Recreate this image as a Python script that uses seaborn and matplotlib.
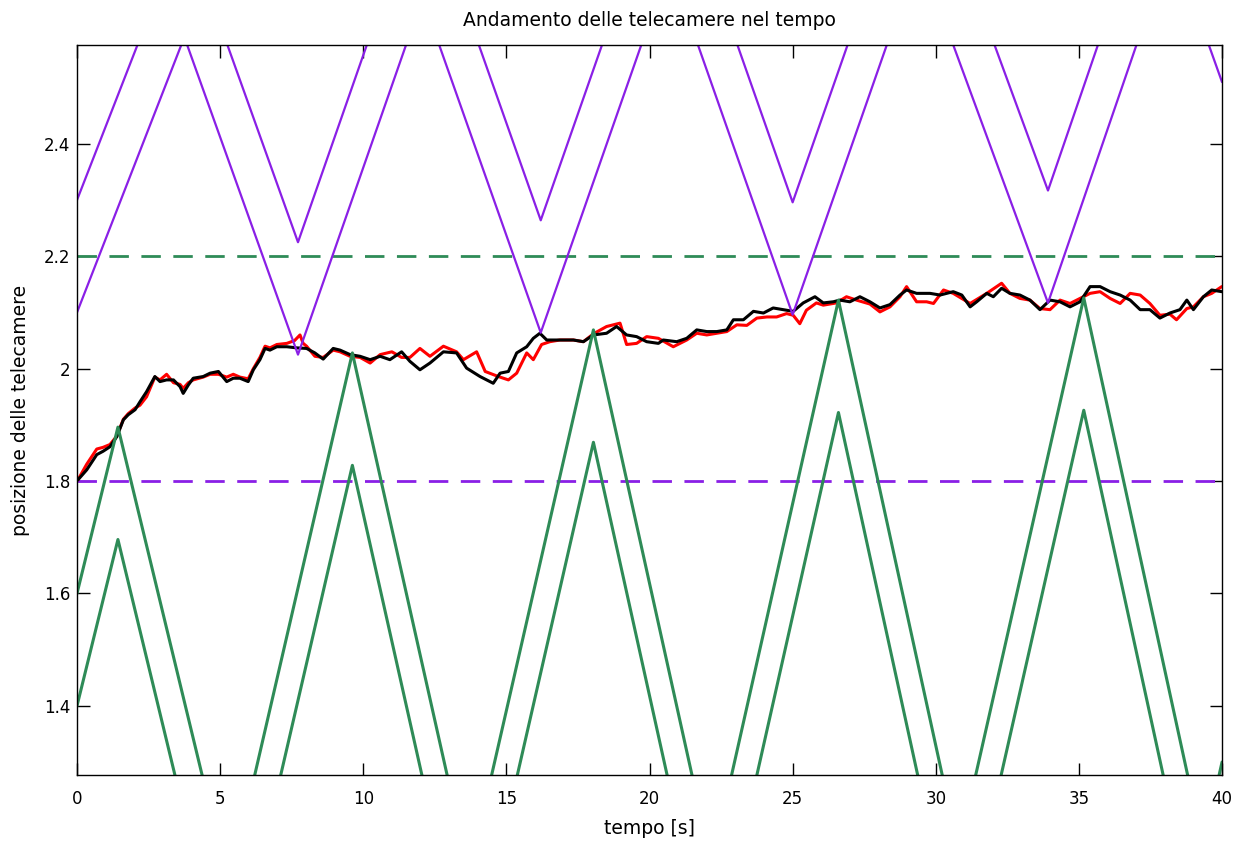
import numpy as np
import pandas as pd
import matplotlib
matplotlib.use("Agg")
import matplotlib.pyplot as plt
import seaborn as sns

# ---------------- data ----------------
title = "Andamento delle telecamere nel tempo"
xlabel = "tempo [s]"
ylabel = "posizione delle telecamere"

x_ticks = [0, 5, 10, 15, 20, 25, 30, 35, 40]
y_ticks = [1.4, 1.6, 1.8, 2.0, 2.2, 2.4]
y_tick_labels = ["1.4", "1.6", "1.8", "2", "2.2", "2.4"]
x_range = [0, 40]
y_range = [1.277, 2.576]

# thresholds (dashed)
purple_threshold = 1.8
green_threshold = 2.2

# purple camera: lower edge vertices; upper edge = lower + offset
purple_t = [0.0, 3.75, 7.72, 12.07, 16.2, 20.7, 25.0, 29.42, 33.92, 38.25, 40.0]
purple_low = [2.10, 2.59, 2.025, 2.66, 2.064, 2.72, 2.096, 2.741, 2.117, 2.76, 2.51]
purple_offset = 0.2

# green camera: upper edge vertices; lower edge = upper - offset
green_t = [0.0, 1.43, 5.31, 9.62, 13.7, 18.04, 22.17, 26.6, 30.8, 35.17, 39.34, 40.0]
green_high = [1.60, 1.896, 1.079, 2.028, 1.102, 2.069, 1.119, 2.122, 1.143, 2.126, 1.15, 1.30]
green_offset = 0.2

# target estimate (black)
black_t = [0.03, 0.34, 0.69, 0.91, 1.15, 1.39, 1.62, 1.79, 2.03, 2.2, 2.43, 2.72, 2.9, 3.13,
           3.37, 3.6, 3.71, 3.89, 4.06, 4.41, 4.65, 4.94, 5.23, 5.46, 5.69, 5.98, 6.16, 6.39,
           6.57, 6.74, 6.98, 7.33, 7.67, 8.02, 8.31, 8.6, 8.95, 9.19, 9.54, 9.89, 10.24,
           10.59, 10.93, 11.34, 11.63, 11.98, 12.33, 12.8, 13.26, 13.61, 14.08, 14.54, 14.78,
           15.07, 15.36, 15.71, 15.94, 16.17, 16.41, 16.87, 17.34, 17.69, 18.04, 18.5, 18.85,
           19.2, 19.55, 19.9, 20.31, 20.48, 20.95, 21.3, 21.65, 22.0, 22.35, 22.7, 22.93,
           23.28, 23.63, 23.98, 24.32, 24.67, 25.02, 25.37, 25.78, 26.07, 26.42, 26.65, 27.0,
           27.35, 27.7, 28.05, 28.4, 28.75, 28.98, 29.33, 29.8, 30.15, 30.61, 30.91, 31.2,
           31.43, 31.78, 32.01, 32.3, 32.59, 32.94, 33.29, 33.64, 33.99, 34.34, 34.69, 35.04,
           35.39, 35.74, 36.09, 36.44, 36.79, 37.14, 37.48, 37.83, 38.18, 38.53, 38.77, 39.0,
           39.35, 39.64, 39.99]
black_y = [1.802, 1.82, 1.847, 1.853, 1.861, 1.879, 1.909, 1.918, 1.927, 1.941, 1.959, 1.986,
           1.977, 1.98, 1.98, 1.968, 1.956, 1.971, 1.983, 1.986, 1.992, 1.995, 1.977, 1.983,
           1.983, 1.977, 1.998, 2.016, 2.036, 2.033, 2.039, 2.039, 2.037, 2.036, 2.028, 2.017,
           2.036, 2.033, 2.025, 2.022, 2.016, 2.022, 2.016, 2.030, 2.013, 1.998, 2.010, 2.030,
           2.028, 2.001, 1.986, 1.974, 1.992, 1.995, 2.028, 2.039, 2.054, 2.063, 2.051, 2.051,
           2.051, 2.048, 2.060, 2.063, 2.075, 2.060, 2.057, 2.048, 2.045, 2.051, 2.048, 2.054,
           2.069, 2.066, 2.066, 2.069, 2.087, 2.087, 2.102, 2.099, 2.108, 2.105, 2.102, 2.117,
           2.128, 2.117, 2.119, 2.122, 2.119, 2.128, 2.119, 2.108, 2.114, 2.131, 2.140, 2.134,
           2.134, 2.131, 2.137, 2.131, 2.110, 2.119, 2.134, 2.128, 2.143, 2.134, 2.131, 2.122,
           2.105, 2.122, 2.119, 2.110, 2.119, 2.146, 2.146, 2.137, 2.131, 2.122, 2.105, 2.105,
           2.090, 2.099, 2.105, 2.122, 2.105, 2.128, 2.140, 2.137]

# target measurement (red)
red_t = [0.03, 0.34, 0.69, 0.91, 1.15, 1.39, 1.62, 1.79, 2.03, 2.2, 2.43, 2.72, 2.9, 3.13,
         3.37, 3.6, 3.71, 3.89, 4.06, 4.41, 4.65, 4.94, 5.23, 5.46, 5.69, 5.98, 6.16, 6.39,
         6.57, 6.74, 6.98, 7.33, 7.6, 7.79, 7.9, 8.02, 8.31, 8.6, 8.95, 9.19, 9.54, 9.89,
         10.24, 10.59, 11.0, 11.34, 11.63, 11.98, 12.33, 12.8, 13.26, 13.5, 13.96, 14.26,
         14.72, 15.07, 15.36, 15.71, 15.94, 16.23, 16.52, 16.87, 17.34, 17.69, 18.04, 18.5,
         18.97, 19.2, 19.55, 19.9, 20.31, 20.83, 21.3, 21.65, 22.0, 22.35, 22.7, 23.05,
         23.4, 23.75, 24.1, 24.44, 24.79, 25.02, 25.25, 25.48, 25.83, 26.07, 26.53, 26.88,
         27.23, 27.7, 28.05, 28.4, 28.75, 28.98, 29.33, 29.68, 29.92, 30.27, 30.61, 31.2,
         31.78, 32.3, 32.59, 32.94, 33.29, 33.64, 33.99, 34.34, 34.69, 35.04, 35.39, 35.74,
         36.09, 36.44, 36.79, 37.14, 37.48, 37.83, 38.18, 38.41, 38.77, 39.0, 39.35, 39.64,
         39.99]
red_y = [1.802, 1.83, 1.857, 1.86, 1.865, 1.88, 1.91, 1.92, 1.93, 1.935, 1.95, 1.985, 1.98,
         1.99, 1.975, 1.972, 1.965, 1.975, 1.98, 1.985, 1.99, 1.99, 1.985, 1.99, 1.985, 1.982,
         2.0, 2.02, 2.04, 2.037, 2.043, 2.045, 2.05, 2.06, 2.045, 2.04, 2.022, 2.02, 2.033,
         2.03, 2.022, 2.02, 2.01, 2.025, 2.03, 2.02, 2.02, 2.036, 2.022, 2.04, 2.03, 2.016,
         2.03, 1.995, 1.986, 1.98, 1.992, 2.028, 2.016, 2.043, 2.048, 2.051, 2.051, 2.048,
         2.062, 2.075, 2.081, 2.043, 2.045, 2.057, 2.054, 2.039, 2.051, 2.063, 2.06, 2.063,
         2.066, 2.078, 2.077, 2.090, 2.092, 2.092, 2.098, 2.095, 2.080, 2.104, 2.117, 2.113,
         2.117, 2.128, 2.122, 2.115, 2.101, 2.110, 2.128, 2.146, 2.119, 2.119, 2.116, 2.140,
         2.134, 2.116, 2.134, 2.152, 2.134, 2.125, 2.122, 2.107, 2.105, 2.122, 2.116, 2.125,
         2.134, 2.137, 2.125, 2.116, 2.134, 2.131, 2.116, 2.095, 2.097, 2.087, 2.107, 2.110,
         2.128, 2.134, 2.146]

# ---------------- styling ----------------
sns.set_theme(style="white")
plt.rcParams["font.family"] = ["DejaVu Sans"]
plt.rcParams["axes.edgecolor"] = "black"
plt.rcParams["text.color"] = "black"
plt.rcParams["axes.labelcolor"] = "black"

PURPLE = "#8a1fe6"
GREEN = "#2e8b57"

fig = plt.figure(figsize=(12.34, 8.42), dpi=100)
ax = fig.add_axes([0.0624, 0.0796, 0.9279, 0.867])

# dashed thresholds
ax.axhline(green_threshold, color=GREEN, lw=2.0, dashes=(7, 4.5))
ax.axhline(purple_threshold, color=PURPLE, lw=2.0, dashes=(7, 4.5))

df_red = pd.DataFrame({"t": red_t, "y": red_y})
df_black = pd.DataFrame({"t": black_t, "y": black_y})
sns.lineplot(data=df_red, x="t", y="y", ax=ax, color="red", lw=2.2,
             sort=False, estimator=None)
sns.lineplot(data=df_black, x="t", y="y", ax=ax, color="black", lw=2.2,
             sort=False, estimator=None)

p_low = np.array(purple_low)
sns.lineplot(x=purple_t, y=p_low, ax=ax, color=PURPLE, lw=1.6, sort=False, estimator=None)
sns.lineplot(x=purple_t, y=p_low + purple_offset, ax=ax, color=PURPLE, lw=1.6,
             sort=False, estimator=None)

g_high = np.array(green_high)
sns.lineplot(x=green_t, y=g_high, ax=ax, color=GREEN, lw=2.2, sort=False, estimator=None)
sns.lineplot(x=green_t, y=g_high - green_offset, ax=ax, color=GREEN, lw=2.2,
             sort=False, estimator=None)

ax.set_xlim(*x_range)
ax.set_ylim(*y_range)
ax.set_xticks(x_ticks)
ax.set_xticklabels([str(v) for v in x_ticks])
ax.set_yticks(y_ticks)
ax.set_yticklabels(y_tick_labels)
ax.tick_params(axis="both", direction="in", length=9, width=1, colors="black",
               labelsize=12, top=True, right=True, bottom=True, left=True)
ax.tick_params(axis="x", pad=11)
ax.tick_params(axis="y", pad=5)
for s in ax.spines.values():
    s.set_visible(True)
    s.set_color("black")
    s.set_linewidth(1.0)

ax.set_title(title, fontsize=13.5, pad=14, color="black")
ax.set_xlabel(xlabel, fontsize=13.5, labelpad=8)
ax.set_ylabel(ylabel, fontsize=13.5, labelpad=10)
ax.grid(False)

fig.savefig("out.png", dpi=100)
